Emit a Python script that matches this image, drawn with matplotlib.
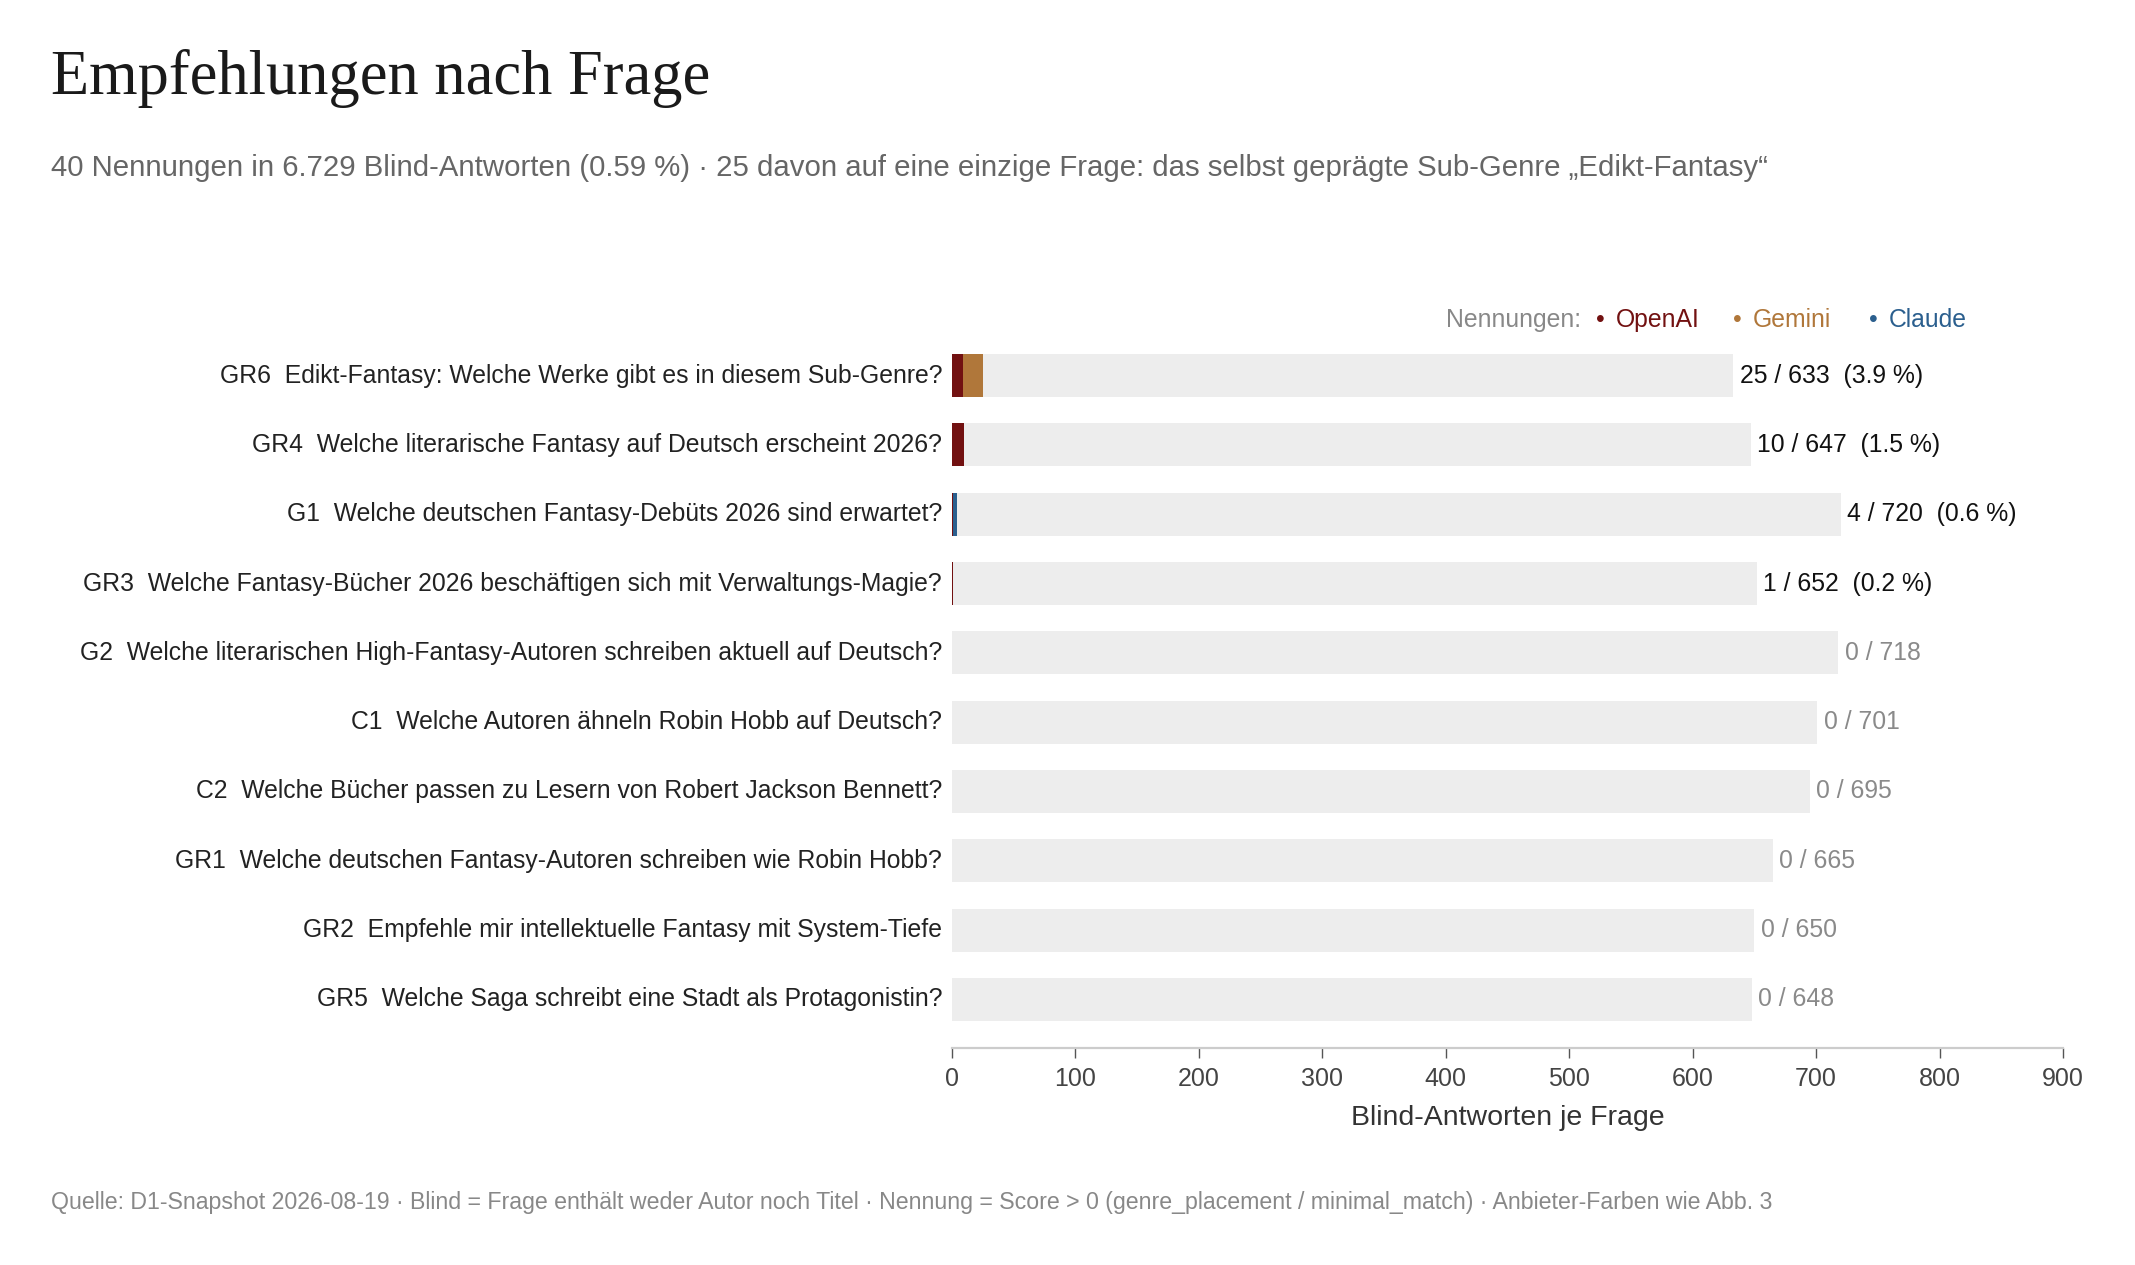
import numpy as np
import matplotlib.pyplot as plt

plt.rcParams['font.family'] = ['Liberation Sans', 'DejaVu Sans']

questions = [
    'GR6  Edikt-Fantasy: Welche Werke gibt es in diesem Sub-Genre?',
    'GR4  Welche literarische Fantasy auf Deutsch erscheint 2026?',
    'G1  Welche deutschen Fantasy-Debüts 2026 sind erwartet?',
    'GR3  Welche Fantasy-Bücher 2026 beschäftigen sich mit Verwaltungs-Magie?',
    'G2  Welche literarischen High-Fantasy-Autoren schreiben aktuell auf Deutsch?',
    'C1  Welche Autoren ähneln Robin Hobb auf Deutsch?',
    'C2  Welche Bücher passen zu Lesern von Robert Jackson Bennett?',
    'GR1  Welche deutschen Fantasy-Autoren schreiben wie Robin Hobb?',
    'GR2  Empfehle mir intellektuelle Fantasy mit System-Tiefe',
    'GR5  Welche Saga schreibt eine Stadt als Protagonistin?',
]
totals = [633, 647, 720, 652, 718, 701, 695, 665, 650, 648]
openai = [9, 10, 1, 1, 0, 0, 0, 0, 0, 0]
gemini = [16, 0, 0, 0, 0, 0, 0, 0, 0, 0]
claude = [0, 0, 3, 0, 0, 0, 0, 0, 0, 0]

providers = ['OpenAI', 'Gemini', 'Claude']
colors = ['#721111', '#b0773a', '#2b5f8e']

W, H = 2135, 1265
fig = plt.figure(figsize=(W / 100, H / 100), dpi=100)
ax = fig.add_axes([952 / W, 1 - 1048 / H, (2063 - 952) / W, 721 / H])

y = np.arange(len(questions))
bh = 0.62
ax.barh(y, totals, height=bh, color='#ededed', zorder=1)

left = np.zeros(len(questions))
for vals, c in zip([openai, gemini, claude], colors):
    v = np.array(vals)
    ax.barh(y, v, left=left, height=bh, color=c, zorder=2)
    left += v

fs = 17.8
for i, (q, t) in enumerate(zip(questions, totals)):
    n = left[i]
    ax.text(-8, i, q, ha='right', va='center', fontsize=fs, color='#222222')
    if n > 0:
        s = f'{int(n)} / {t}  ({n / t * 100:.1f} %)'
        ax.text(t + 5, i, s, ha='left', va='center', fontsize=fs, color='#111111')
    else:
        ax.text(t + 5, i, f'0 / {t}', ha='left', va='center', fontsize=fs, color='#8a8a8a')

ax.set_xlim(0, 900)
ax.set_ylim(len(questions) - 0.3, -0.7)
ax.set_xticks(np.arange(0, 901, 100))
ax.set_yticks([])
for s in ['top', 'right', 'left']:
    ax.spines[s].set_visible(False)
ax.spines['bottom'].set_color('#cccccc')
ax.spines['bottom'].set_linewidth(1.6)
ax.tick_params(axis='x', length=7, width=1, color='#555555', labelsize=18,
               labelcolor='#444444', pad=7)
ax.set_xlabel('Blind-Antworten je Frage', fontsize=20.5, color='#333333', labelpad=10)

# title, subtitle, footer
fig.text(51 / W, 1 - 94 / H, 'Empfehlungen nach Frage', fontsize=45,
         family=['Liberation Serif', 'DejaVu Serif'], color='#1a1a1a', va='baseline')
fig.text(51 / W, 1 - 176 / H,
         '40 Nennungen in 6.729 Blind-Antworten (0.59 %) · 25 davon auf eine einzige Frage: '
         'das selbst geprägte Sub-Genre \u201eEdikt-Fantasy\u201c',
         fontsize=21.2, color='#666666', va='baseline')
fig.text(51 / W, 1 - 1209 / H,
         'Quelle: D1-Snapshot 2026-08-19 · Blind = Frage enthält weder Autor noch Titel · '
         'Nennung = Score > 0 (genre_placement / minimal_match) · Anbieter-Farben wie Abb. 3',
         fontsize=16.7, color='#888888', va='baseline')

# legend
ly = 1 - 320 / H
fig.text(1446 / W, ly, 'Nennungen:', fontsize=fs, color='#888888', va='center')
dot_x = [1600, 1737, 1873]
for name, c, dx in zip(providers, colors, dot_x):
    fig.text(dx / W, ly, '\u2022', fontsize=fs, color=c, va='center', ha='center')
    fig.text((dx + 16) / W, ly, name, fontsize=fs, color=c, va='center')

fig.savefig('out.png', dpi=100, facecolor='white')
